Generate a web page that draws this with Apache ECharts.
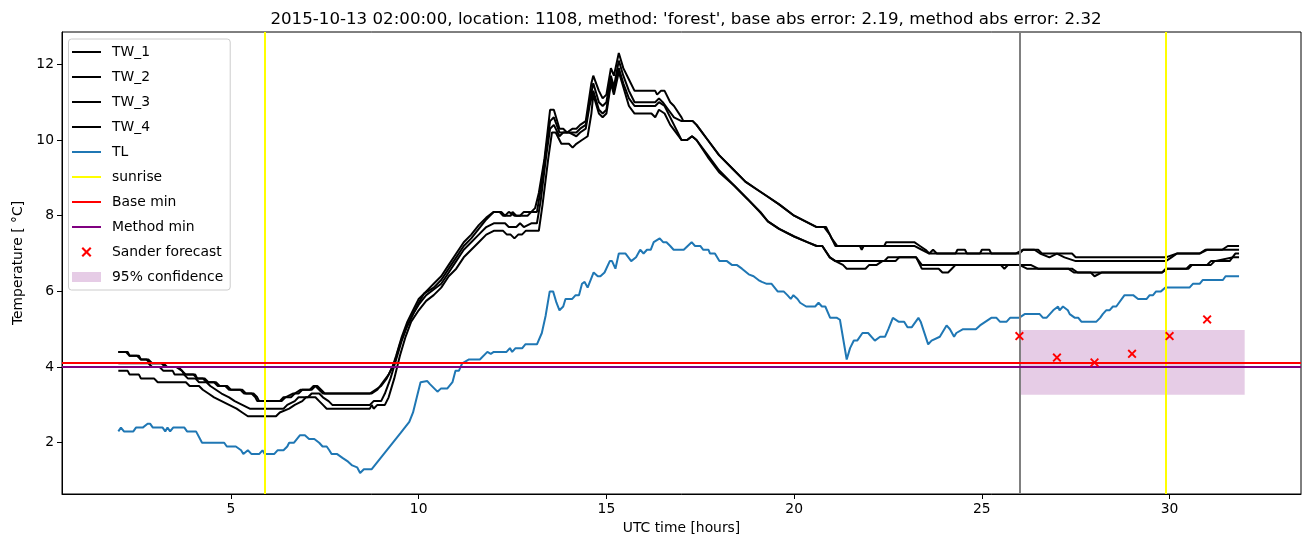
<!DOCTYPE html>
<html>
<head>
<meta charset="utf-8">
<script src="https://cdn.jsdelivr.net/npm/echarts@6/dist/echarts.min.js"></script>
<style>html,body{margin:0;padding:0;background:#fff;}#chart{width:1310px;height:547px;}</style>
</head>
<body>
<div id="chart"></div>
<script>
// ---- data (hours, temperature °C) ----
const tw1 = [[2.0,4.4],[2.2,4.4],[2.3,4.3],[2.5,4.3],[2.6,4.2],[2.8,4.2],[2.9,4.1],[3.2,4.1],[3.3,4.0],[3.6,4.0],[3.7,3.9],[3.8,3.8],[4.0,3.8],[4.1,3.7],[4.3,3.7],[4.4,3.6],[4.6,3.6],[4.7,3.5],[4.9,3.5],[5.0,3.4],[5.3,3.4],[5.4,3.3],[5.6,3.3],[5.7,3.2],[5.75,3.1],[6.3,3.1],[6.4,3.2],[6.6,3.2],[6.7,3.3],[6.85,3.4],[7.1,3.4],[7.2,3.5],[7.3,3.5],[7.4,3.4],[7.5,3.3],[8.7,3.3],[8.85,3.4],[9.0,3.5],[9.15,3.7],[9.3,4.0],[9.4,4.3],[9.55,4.8],[9.7,5.2],[9.85,5.5],[10.0,5.8],[10.2,6.0],[10.4,6.2],[10.6,6.4],[10.8,6.7],[11.0,7.0],[11.2,7.3],[11.4,7.5],[11.6,7.75],[11.8,7.95],[12.0,8.1],[12.2,8.1],[12.3,8.0],[12.4,8.1],[12.55,8.0],[12.7,8.0],[12.8,8.1],[13.0,8.1],[13.1,8.2],[13.2,8.6],[13.35,9.5],[13.5,10.8],[13.6,10.8],[13.75,10.3],[13.85,10.3],[13.95,10.2],[14.1,10.3],[14.2,10.3],[14.3,10.4],[14.45,10.5],[14.6,11.5],[14.65,11.7],[14.8,11.3],[14.9,11.1],[15.0,11.2],[15.12,11.9],[15.2,11.7],[15.33,12.3],[15.45,11.9],[15.6,11.6],[15.75,11.3],[16.3,11.3],[16.35,11.2],[16.45,11.3],[16.55,11.3],[16.7,11.0],[16.8,10.9],[17.0,10.6],[17.05,10.5],[17.3,10.5],[17.4,10.4],[17.7,10.0],[18.0,9.6],[18.4,9.2],[18.7,8.9],[19.0,8.7],[19.3,8.5],[19.6,8.3],[20.0,8.0],[20.3,7.85],[20.6,7.7],[20.8,7.7],[20.95,7.5],[21.1,7.2],[21.75,7.2],[21.8,7.1],[21.85,7.2],[22.4,7.2],[22.45,7.3],[23.2,7.3],[23.35,7.2],[23.5,7.1],[23.6,7.0],[23.7,7.1],[23.8,7.0],[24.3,7.0],[24.35,7.1],[24.55,7.1],[24.6,7.0],[24.95,7.0],[25.0,7.1],[25.2,7.1],[25.25,7.0],[26.0,7.0],[26.1,7.1],[26.5,7.1],[26.6,7.0],[27.4,7.0],[27.5,6.9],[29.9,6.9],[30.2,7.0],[30.8,7.0],[30.95,7.1],[31.4,7.1],[31.55,7.2],[31.85,7.2]];
const tw2 = [[2.0,4.4],[2.25,4.4],[2.3,4.3],[2.55,4.3],[2.6,4.2],[2.75,4.2],[2.85,4.1],[3.15,4.1],[3.25,4.0],[3.55,4.0],[3.7,3.9],[3.75,3.8],[4.05,3.8],[4.1,3.7],[4.25,3.7],[4.35,3.6],[4.55,3.6],[4.65,3.5],[4.85,3.5],[4.95,3.4],[5.25,3.4],[5.35,3.3],[5.55,3.3],[5.65,3.2],[5.7,3.1],[6.35,3.1],[6.45,3.2],[6.65,3.3],[6.8,3.3],[6.9,3.4],[7.15,3.4],[7.25,3.5],[7.35,3.4],[7.45,3.3],[8.75,3.3],[8.9,3.4],[9.05,3.6],[9.2,3.8],[9.35,4.1],[9.5,4.6],[9.65,5.0],[9.8,5.3],[10.0,5.7],[10.15,5.95],[10.4,6.1],[10.6,6.3],[10.8,6.6],[11.0,6.9],[11.2,7.2],[11.4,7.4],[11.6,7.65],[11.8,7.9],[12.0,8.1],[12.15,8.1],[12.25,8.0],[12.45,8.0],[12.5,8.1],[12.6,8.0],[12.9,8.0],[13.0,8.1],[13.15,8.1],[13.25,8.7],[13.4,9.8],[13.5,10.5],[13.6,10.6],[13.75,10.2],[13.85,10.2],[14.0,10.2],[14.2,10.2],[14.3,10.3],[14.45,10.4],[14.55,11.0],[14.65,11.5],[14.8,11.0],[14.9,10.9],[15.0,11.0],[15.12,11.7],[15.2,11.4],[15.33,12.1],[15.45,11.7],[15.6,11.3],[15.75,11.0],[16.3,11.0],[16.4,11.1],[16.5,11.0],[16.65,10.8],[16.8,10.6],[17.0,10.5],[17.3,10.5],[17.4,10.4],[17.7,10.0],[18.0,9.6],[18.4,9.2],[18.7,8.9],[19.0,8.7],[19.3,8.5],[19.6,8.3],[20.0,8.0],[20.3,7.85],[20.6,7.7],[20.85,7.7],[21.0,7.4],[21.15,7.2],[23.2,7.2],[23.4,7.1],[23.6,7.0],[25.9,7.0],[26.1,7.1],[26.4,7.1],[26.55,7.0],[26.8,6.9],[27.0,7.0],[27.2,6.9],[27.5,6.8],[29.9,6.8],[30.05,6.9],[30.2,7.0],[30.8,7.0],[31.0,7.1],[31.85,7.1]];
const tw3 = [[2.0,4.1],[2.8,4.1],[2.9,4.0],[3.1,4.0],[3.2,3.9],[3.45,3.9],[3.5,3.8],[3.75,3.8],[3.85,3.7],[4.05,3.7],[4.15,3.6],[4.35,3.6],[4.45,3.5],[4.6,3.4],[4.75,3.3],[4.95,3.2],[5.1,3.1],[5.3,3.0],[5.5,2.9],[6.4,2.9],[6.5,3.0],[6.7,3.1],[6.8,3.2],[7.05,3.2],[7.15,3.3],[7.35,3.3],[7.45,3.2],[7.6,3.1],[7.7,3.0],[8.7,3.0],[8.8,3.1],[9.0,3.1],[9.1,3.3],[9.25,3.7],[9.4,4.2],[9.55,4.7],[9.7,5.1],[9.85,5.4],[10.0,5.65],[10.2,5.9],[10.4,6.05],[10.6,6.2],[10.8,6.5],[11.0,6.8],[11.2,7.1],[11.4,7.3],[11.6,7.5],[11.8,7.7],[12.0,7.8],[12.3,7.8],[12.4,7.7],[12.6,7.7],[12.7,7.8],[12.8,7.7],[13.0,7.8],[13.15,7.8],[13.25,8.4],[13.4,9.6],[13.5,10.3],[13.6,10.4],[13.75,10.1],[13.85,10.2],[14.0,10.2],[14.2,10.1],[14.3,10.2],[14.45,10.3],[14.55,10.9],[14.65,11.3],[14.8,10.8],[14.9,10.7],[15.0,10.8],[15.12,11.6],[15.2,11.3],[15.33,11.9],[15.45,11.5],[15.6,11.1],[15.75,10.9],[16.3,10.9],[16.4,11.0],[16.55,10.9],[16.7,10.6],[16.85,10.3],[17.0,10.0],[17.15,10.0],[17.28,10.1],[17.4,10.0],[17.7,9.6],[18.0,9.2],[18.4,8.8],[18.75,8.45],[19.1,8.1],[19.3,7.85],[19.6,7.65],[20.0,7.45],[20.35,7.3],[20.6,7.2],[20.75,7.2],[20.95,6.9],[21.1,6.8],[22.0,6.8],[22.05,6.85],[22.4,6.8],[22.5,6.9],[23.25,6.9],[23.4,6.7],[25.5,6.7],[25.6,6.6],[25.7,6.7],[26.3,6.7],[26.5,6.6],[27.4,6.6],[27.55,6.5],[29.8,6.5],[29.9,6.6],[30.45,6.6],[30.55,6.7],[31.0,6.7],[31.1,6.8],[31.6,6.8],[31.75,7.0],[31.85,7.0]];
const tw4 = [[2.0,3.9],[2.25,3.9],[2.3,3.8],[2.55,3.8],[2.6,3.7],[2.95,3.7],[3.05,3.6],[3.8,3.6],[3.9,3.5],[4.15,3.5],[4.25,3.4],[4.4,3.3],[4.55,3.2],[4.75,3.1],[4.95,3.0],[5.15,2.9],[5.3,2.8],[5.45,2.7],[6.2,2.7],[6.3,2.8],[6.55,2.9],[6.7,3.0],[6.9,3.1],[7.0,3.2],[7.25,3.2],[7.35,3.1],[7.45,3.0],[7.55,2.9],[8.7,2.9],[8.75,3.0],[8.8,2.9],[8.9,3.0],[9.1,3.0],[9.2,3.2],[9.35,3.7],[9.5,4.3],[9.65,4.8],[9.8,5.2],[10.0,5.5],[10.2,5.75],[10.4,5.9],[10.6,6.1],[10.8,6.4],[11.0,6.6],[11.2,6.9],[11.4,7.1],[11.6,7.3],[11.8,7.5],[12.0,7.6],[12.25,7.6],[12.35,7.5],[12.45,7.5],[12.55,7.4],[12.65,7.5],[12.75,7.5],[12.85,7.6],[13.2,7.6],[13.3,8.3],[13.45,9.5],[13.55,10.2],[13.65,10.2],[13.8,9.9],[14.0,9.9],[14.1,9.8],[14.2,9.9],[14.35,10.0],[14.5,10.1],[14.6,10.7],[14.65,11.2],[14.8,10.7],[14.9,10.6],[15.0,10.7],[15.12,11.5],[15.2,11.2],[15.33,11.8],[15.45,11.4],[15.6,10.9],[15.75,10.7],[16.2,10.7],[16.3,10.6],[16.4,10.8],[16.55,10.7],[16.7,10.4],[16.85,10.2],[17.0,10.0],[17.15,10.0],[17.28,10.1],[17.4,10.0],[17.7,9.55],[18.0,9.15],[18.4,8.8],[18.75,8.45],[19.1,8.08],[19.3,7.85],[19.6,7.65],[20.0,7.45],[20.35,7.3],[20.6,7.2],[20.75,7.2],[20.95,6.9],[21.1,6.8],[21.3,6.7],[21.4,6.6],[21.9,6.6],[22.0,6.7],[22.2,6.7],[22.35,6.8],[22.7,6.8],[22.8,6.9],[23.25,6.9],[23.4,6.6],[23.85,6.6],[23.95,6.5],[24.1,6.5],[24.2,6.6],[24.3,6.7],[26.0,6.7],[26.2,6.6],[27.3,6.6],[27.45,6.5],[27.9,6.5],[28.0,6.4],[28.05,6.4],[28.2,6.5],[29.8,6.5],[29.95,6.6],[30.5,6.6],[30.6,6.7],[31.1,6.7],[31.2,6.8],[31.7,6.9],[31.85,6.9]];
const tl = [[2.0,2.3],[2.07,2.4],[2.15,2.3],[2.4,2.3],[2.47,2.4],[2.65,2.4],[2.78,2.5],[2.85,2.5],[2.92,2.4],[3.18,2.4],[3.25,2.3],[3.31,2.4],[3.38,2.3],[3.46,2.4],[3.76,2.4],[3.83,2.3],[4.07,2.3],[4.23,2.0],[4.82,2.0],[4.89,1.9],[5.13,1.9],[5.27,1.8],[5.33,1.7],[5.45,1.8],[5.55,1.7],[5.75,1.7],[5.84,1.8],[5.9,1.7],[6.15,1.7],[6.24,1.8],[6.4,1.8],[6.5,1.9],[6.55,2.0],[6.68,2.0],[6.84,2.2],[6.97,2.2],[7.08,2.1],[7.22,2.1],[7.35,2.0],[7.44,1.9],[7.55,1.9],[7.62,1.8],[7.68,1.7],[7.83,1.7],[7.97,1.6],[8.12,1.5],[8.23,1.4],[8.36,1.35],[8.44,1.2],[8.54,1.3],[8.75,1.3],[9.52,2.26],[9.75,2.55],[9.85,2.8],[9.95,3.2],[10.05,3.6],[10.1,3.55],[10.23,3.63],[10.3,3.55],[10.5,3.35],[10.59,3.43],[10.76,3.43],[10.9,3.6],[10.98,3.9],[11.07,3.9],[11.16,4.1],[11.34,4.2],[11.63,4.2],[11.83,4.4],[11.92,4.35],[12.0,4.4],[12.34,4.4],[12.43,4.5],[12.49,4.4],[12.58,4.5],[12.76,4.5],[12.84,4.6],[13.15,4.6],[13.28,4.9],[13.38,5.35],[13.49,6.0],[13.58,6.0],[13.67,5.7],[13.75,5.5],[13.85,5.6],[13.91,5.8],[14.09,5.8],[14.18,5.9],[14.27,5.9],[14.35,6.2],[14.42,6.25],[14.5,6.1],[14.66,6.5],[14.77,6.4],[14.84,6.4],[14.95,6.5],[15.0,6.5],[15.09,6.8],[15.15,6.8],[15.24,6.6],[15.33,7.0],[15.51,7.0],[15.66,6.8],[15.79,6.9],[15.9,7.1],[15.99,7.0],[16.08,7.1],[16.18,7.1],[16.26,7.3],[16.42,7.4],[16.51,7.3],[16.6,7.3],[16.7,7.2],[16.79,7.1],[17.06,7.1],[17.27,7.3],[17.36,7.2],[17.5,7.2],[17.58,7.1],[17.72,7.1],[17.76,7.0],[17.89,7.0],[18.01,6.8],[18.21,6.8],[18.34,6.7],[18.47,6.7],[18.61,6.6],[18.79,6.45],[18.92,6.4],[19.05,6.3],[19.14,6.25],[19.27,6.2],[19.4,6.2],[19.56,6.0],[19.72,6.0],[19.82,5.9],[19.91,5.8],[19.98,5.9],[20.09,5.8],[20.16,5.7],[20.32,5.6],[20.56,5.6],[20.65,5.7],[20.74,5.6],[20.83,5.6],[20.96,5.3],[21.14,5.3],[21.22,5.25],[21.4,4.2],[21.49,4.5],[21.59,4.7],[21.68,4.7],[21.82,4.9],[21.97,4.9],[22.15,4.7],[22.29,4.8],[22.42,4.8],[22.51,5.0],[22.63,5.3],[22.78,5.2],[22.93,5.2],[23.02,5.05],[23.13,5.05],[23.31,5.3],[23.37,5.2],[23.57,4.6],[23.66,4.7],[23.88,4.8],[24.06,5.1],[24.15,5.0],[24.26,4.8],[24.32,4.9],[24.5,5.0],[24.84,5.0],[24.95,5.1],[25.1,5.2],[25.25,5.3],[25.39,5.3],[25.48,5.2],[25.66,5.2],[25.75,5.3],[25.99,5.3],[26.14,5.4],[26.54,5.4],[26.63,5.3],[26.72,5.3],[26.9,5.5],[27.03,5.6],[27.07,5.5],[27.16,5.6],[27.29,5.5],[27.34,5.4],[27.48,5.3],[27.57,5.3],[27.65,5.2],[28.05,5.2],[28.15,5.3],[28.22,5.4],[28.31,5.5],[28.4,5.5],[28.49,5.6],[28.58,5.6],[28.8,5.9],[29.03,5.9],[29.16,5.8],[29.39,5.8],[29.47,5.9],[29.56,5.9],[29.64,6.0],[29.77,6.0],[29.89,6.1],[30.53,6.1],[30.62,6.2],[30.8,6.2],[30.88,6.3],[31.42,6.3],[31.49,6.4],[31.85,6.4]];
const forecastHours = [26, 27, 28, 29, 30, 31];
const forecastValues = [4.82, 4.25, 4.12, 4.35, 4.82, 5.26];
const sunriseHours = [5.9, 29.9];
const forecastStartHour = 26;
const baseMin = 4.11;
const methodMin = 4.0;
const confidence = {from: 26, to: 32, low: 3.27, high: 4.98};
const xTicks = [5, 10, 15, 20, 25, 30];
const yTicks = [2, 4, 6, 8, 10, 12];
const xRange = [0.5, 33.5];
const yRange = [0.645, 12.855];
const titleText = "2015-10-13 02:00:00, location: 1108, method: 'forest', base abs error: 2.19, method abs error: 2.32";

const FONT = 'DejaVu Sans';
const XMARK = 'path://M1.5,0 L5,3.5 L8.5,0 L10,1.5 L6.5,5 L10,8.5 L8.5,10 L5,6.5 L1.5,10 L0,8.5 L3.5,5 L0,1.5 Z';
const LINE_ICON = 'path://M0,0 L29,0 L29,2 L0,2 Z';

const chart = echarts.init(document.getElementById('chart'), null, {renderer: 'canvas'});

function twSeries(name, data) {
  return {name, type: 'line', data, showSymbol: false, symbol: 'none', color: '#000000',
    lineStyle: {color: '#000000', width: 2}, animation: false, z: 3};
}

const lineLegend = ['TW_1', 'TW_2', 'TW_3', 'TW_4', 'TL', 'sunrise', 'Base min', 'Method min']
  .map(n => ({name: n, icon: LINE_ICON}));

const option = {
  animation: false,
  backgroundColor: '#ffffff',
  title: {
    text: titleText, left: 681, top: 6, textAlign: 'center',
    textStyle: {fontFamily: FONT, fontSize: 16.67, fontWeight: 'normal', color: '#000'}
  },
  grid: {left: 62, right: 9, top: 32, bottom: 53, show: true, borderColor: '#000', borderWidth: 1, outerBoundsMode: 'none'},
  legend: {
    orient: 'vertical', left: 68.5, top: 39, selectedMode: false,
    itemWidth: 29, itemHeight: 10, itemGap: 11,
    padding: [6, 7, 6, 3.5],
    backgroundColor: 'rgba(255,255,255,0.8)', borderColor: '#cccccc', borderWidth: 1, borderRadius: 3,
    textStyle: {fontFamily: FONT, fontSize: 13.89, color: '#000', padding: [0, 0, 0, 6]},
    data: lineLegend.concat([
      {name: 'Sander forecast', icon: XMARK},
      {name: '95% confidence', icon: 'rect'}])
  },
  xAxis: {
    type: 'value', min: xRange[0], max: xRange[1],
    name: 'UTC time [hours]', nameLocation: 'middle', nameGap: 27,
    nameTextStyle: {fontFamily: FONT, fontSize: 13.89, color: '#000'},
    axisLine: {show: true, lineStyle: {color: '#000', width: 1}},
    axisTick: {show: true, length: 5, lineStyle: {color: '#000', width: 1}, customValues: xTicks},
    axisLabel: {fontFamily: FONT, fontSize: 13.89, color: '#000', margin: 8, customValues: xTicks},
    splitLine: {show: false}
  },
  yAxis: {
    type: 'value', min: yRange[0], max: yRange[1],
    name: 'Temperature [ °C]', nameLocation: 'middle', nameGap: 37, nameRotate: 90,
    nameTextStyle: {fontFamily: FONT, fontSize: 13.89, color: '#000'},
    axisLine: {show: true, lineStyle: {color: '#000', width: 1}},
    axisTick: {show: true, length: 5, lineStyle: {color: '#000', width: 1}, customValues: yTicks},
    axisLabel: {fontFamily: FONT, fontSize: 13.89, color: '#000', margin: 8, customValues: yTicks},
    splitLine: {show: false}
  },
  series: [
    {
      name: '95% confidence', type: 'line', data: [], color: 'rgba(128,0,128,0.2)',
      itemStyle: {color: 'rgba(128,0,128,0.2)'}, z: 1,
      markArea: {silent: true, itemStyle: {color: 'rgba(128,0,128,0.2)'},
        data: [[{xAxis: confidence.from, yAxis: confidence.low}, {xAxis: confidence.to, yAxis: confidence.high}]]}
    },
    twSeries('TW_1', tw1),
    twSeries('TW_2', tw2),
    twSeries('TW_3', tw3),
    twSeries('TW_4', tw4),
    {name: 'TL', type: 'line', data: tl, showSymbol: false, symbol: 'none', color: '#1f77b4',
      lineStyle: {color: '#1f77b4', width: 2}, z: 4},
    {name: 'forecast start', type: 'line', data: [], color: '#808080', z: 5,
      markLine: {silent: true, symbol: 'none', label: {show: false}, animation: false,
        lineStyle: {color: '#808080', width: 2, type: 'solid'},
        data: [{xAxis: forecastStartHour}]}},
    {name: 'sunrise', type: 'line', data: [], color: '#ffff00', lineStyle: {color: '#ffff00', width: 2}, z: 5,
      markLine: {silent: true, symbol: 'none', label: {show: false}, animation: false,
        lineStyle: {color: '#ffff00', width: 2, type: 'solid'},
        data: sunriseHours.map(h => ({xAxis: h}))}},
    {name: 'Base min', type: 'line', data: [], color: '#ff0000', lineStyle: {color: '#ff0000', width: 2}, z: 5,
      markLine: {silent: true, symbol: 'none', label: {show: false}, animation: false,
        lineStyle: {color: '#ff0000', width: 2, type: 'solid'},
        data: [{yAxis: baseMin}]}},
    {name: 'Method min', type: 'line', data: [], color: '#800080', lineStyle: {color: '#800080', width: 2}, z: 5,
      markLine: {silent: true, symbol: 'none', label: {show: false}, animation: false,
        lineStyle: {color: '#800080', width: 2, type: 'solid'},
        data: [{yAxis: methodMin}]}},
    {name: 'Sander forecast', type: 'scatter', symbol: XMARK, symbolSize: 9, color: '#ff0000',
      itemStyle: {color: '#ff0000', opacity: 1}, z: 6,
      data: forecastHours.map((h, i) => [h, forecastValues[i]])}
  ]
};
chart.setOption(option);
</script>
</body>
</html>
